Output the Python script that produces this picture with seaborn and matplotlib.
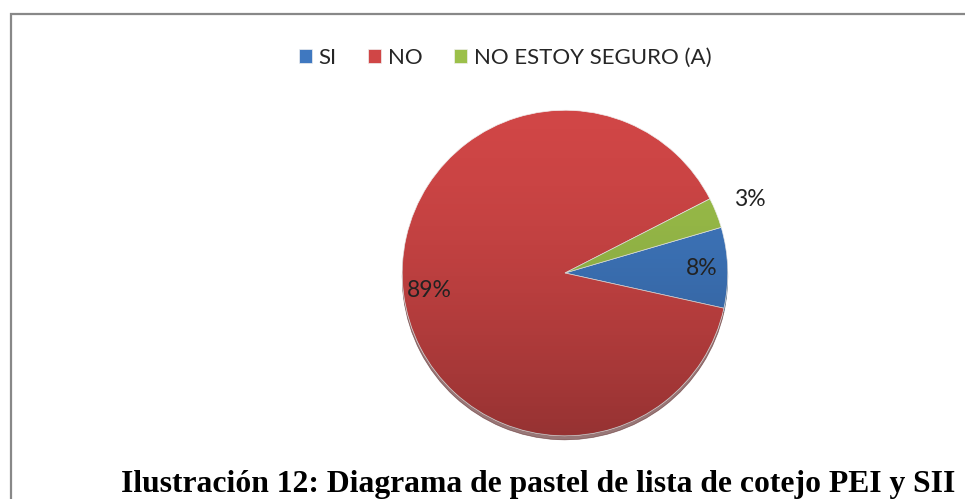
import matplotlib
matplotlib.use("Agg")
import matplotlib.pyplot as plt
import seaborn as sns
import numpy as np
from matplotlib.patches import Rectangle, Circle

sns.set_theme(style="white")
plt.rcParams["font.family"] = ["Lato", "DejaVu Sans"]

categorias = ["SI", "NO", "NO ESTOY SEGURO (A)"]
porcentajes = [8, 89, 3]
colores = ["#3F78C0", "#D04646", "#9CC04A"]
titulo = "Ilustración 12: Diagrama de pastel de lista de cotejo PEI y SII"

fig = plt.figure(figsize=(9.65, 4.99), dpi=100)

# marco gris del grafico
fig.patches.append(Rectangle((11 / 965, -0.1), 1.2, (499 - 14) / 499 + 0.1,
                             transform=fig.transFigure, fill=False,
                             edgecolor="#888888", linewidth=1.6, zorder=0))

ax = fig.add_axes([399 / 965, 60 / 499, 332 / 965, 332 / 499])
wedges, textos, autotextos = ax.pie(
    porcentajes, colors=colores, startangle=16.3, counterclock=False,
    autopct="%1.0f%%", pctdistance=0.84,
    wedgeprops=dict(linewidth=0.5, edgecolor="#f0f0f0"),
    textprops=dict(fontsize=16.5, color="#222222"),
    shadow=dict(ox=0, oy=-0.018, shade=0.6, alpha=0.6))
ax.set_xlim(-1.02, 1.02)
ax.set_ylim(-1.02, 1.02)
ax.set_aspect("equal")

# degradado oscuro hacia abajo, como el efecto de Excel
grad = np.linspace(0, 1, 256).reshape(-1, 1)
sombra = np.zeros((256, 1, 4))
sombra[..., 3] = 0.28 * grad ** 1.5
img = ax.imshow(sombra, extent=(-1, 1, -1, 1), origin="upper", aspect="auto", zorder=2)
img.set_clip_path(Circle((0, 0), 1, transform=ax.transData))
for t in autotextos:
    t.set_zorder(5)

# la etiqueta pequena va fuera del pastel
for w, t, v in zip(wedges, autotextos, porcentajes):
    if v < 5:
        ang = np.deg2rad((w.theta1 + w.theta2) / 2)
        t.set_position((1.22 * np.cos(ang), 1.22 * np.sin(ang)))

fig.legend(wedges, categorias, loc="center", bbox_to_anchor=(505 / 965, 1 - 58 / 499),
           ncol=3, frameon=False, fontsize=16, handlelength=0.6, handleheight=0.6,
           handletextpad=0.3, columnspacing=1.4, borderaxespad=0)

fig.text(121 / 965, 7 / 499, titulo, fontsize=22.8, fontweight="bold",
         family=["Liberation Serif", "DejaVu Serif"], color="black", ha="left", va="baseline")

fig.savefig("out.png", dpi=100)
